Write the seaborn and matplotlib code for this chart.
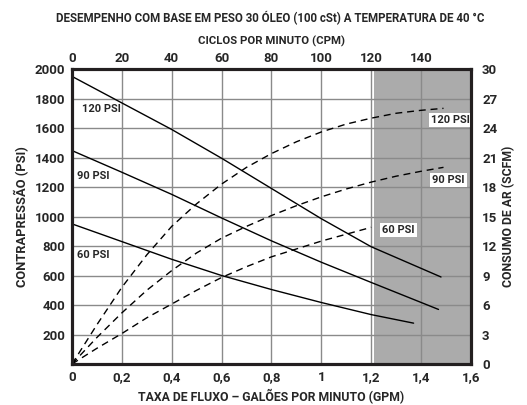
import numpy as np
import pandas as pd
import matplotlib
matplotlib.use("Agg")
import matplotlib.pyplot as plt
import seaborn as sns

# ======================================
# DADOS
# ======================================
# contrapressao (PSI) x vazao (GPM)
gpm_120 = [0, 0.2, 0.4, 0.6, 0.8, 1.0, 1.2, 1.48]
psi_120 = [1950, 1770, 1590, 1395, 1190, 985, 795, 590]
gpm_90 = [0, 0.2, 0.4, 0.6, 0.8, 1.0, 1.2, 1.47]
psi_90 = [1447, 1300, 1150, 990, 835, 690, 553, 370]
gpm_60 = [0, 0.2, 0.4, 0.6, 0.8, 1.0, 1.2, 1.37]
psi_60 = [950, 830, 710, 600, 505, 417, 335, 277]

# consumo de ar (SCFM) x vazao (GPM)
ar_gpm_120 = [0, 0.1, 0.2, 0.3, 0.4, 0.5, 0.6, 0.7, 0.8, 0.9, 1.0, 1.1, 1.2, 1.3, 1.4, 1.49]
scfm_120 = [0, 4.0, 7.8, 11.1, 14.0, 16.3, 18.3, 20.0, 21.4, 22.6, 23.6, 24.4, 25.0, 25.5, 25.8, 26.0]
ar_gpm_90 = [0, 0.1, 0.2, 0.3, 0.4, 0.5, 0.6, 0.7, 0.8, 0.9, 1.0, 1.1, 1.2, 1.3, 1.4, 1.49]
scfm_90 = [0, 2.7, 5.2, 7.5, 9.5, 11.3, 12.8, 14.0, 15.1, 16.1, 17.0, 17.8, 18.5, 19.1, 19.6, 20.0]
ar_gpm_60 = [0, 0.1, 0.2, 0.3, 0.4, 0.5, 0.6, 0.7, 0.8, 0.9, 1.0, 1.1, 1.2]
scfm_60 = [0, 1.6, 3.1, 4.7, 6.1, 7.5, 8.8, 9.9, 10.9, 11.7, 12.5, 13.2, 13.9]

x_ticks = [0, 0.2, 0.4, 0.6, 0.8, 1.0, 1.2, 1.4, 1.6]
x_labels = ["0", "0,2", "0,4", "0,6", "0,8", "1", "1,2", "1,4", "1,6"]
cpm_ticks = [0, 20, 40, 60, 80, 100, 120, 140]
psi_ticks = [200, 400, 600, 800, 1000, 1200, 1400, 1600, 1800, 2000]
scfm_ticks = [0, 3, 6, 9, 12, 15, 18, 21, 24, 27, 30]

sns.set_style("white")
plt.rcParams["font.family"] = ["Roboto", "DejaVu Sans"]
plt.rcParams["font.weight"] = "bold"

fig = plt.figure(figsize=(5.27, 4.05), dpi=100)
ax = fig.add_axes([0.1366, 0.1012, 0.757, 0.7284])

# area sombreada
ax.axvspan(1.21, 1.6, color="#ababab", zorder=0, lw=0)

# grade
ax.set_xticks(x_ticks)
ax.set_yticks(psi_ticks)
ax.grid(True, color="#8a8a8a", lw=1.0, zorder=1)

for xs, ys in [(gpm_120, psi_120), (gpm_90, psi_90), (gpm_60, psi_60)]:
    d = pd.DataFrame({"x": xs, "y": ys})
    sns.lineplot(data=d, x="x", y="y", ax=ax, color="black", lw=1.0, zorder=3)

ax.set_xlim(0, 1.6)
ax.set_ylim(0, 2000)
ax.set_xticklabels(x_labels, fontsize=9.5, fontweight="bold")
ax.set_yticklabels([str(t) for t in psi_ticks], fontsize=9.5, fontweight="bold")
ax.tick_params(length=0, pad=5)
ax.set_xlabel("TAXA DE FLUXO – GALÕES POR MINUTO (GPM)", fontsize=8.8, fontweight="bold", labelpad=4)
ax.set_ylabel("CONTRAPRESSÃO (PSI)", fontsize=9.3, fontweight="bold", labelpad=4)

# eixo direito: consumo de ar
ax_r = ax.twinx()
for xs, ys in [(ar_gpm_120, scfm_120), (ar_gpm_90, scfm_90), (ar_gpm_60, scfm_60)]:
    d = pd.DataFrame({"x": xs, "y": ys})
    sns.lineplot(data=d, x="x", y="y", ax=ax_r, color="black", lw=1.0, zorder=3)
    ax_r.lines[-1].set_dashes([5, 3.5])
ax_r.set_ylim(0, 30)
ax_r.set_yticks(scfm_ticks)
ax_r.set_yticklabels([str(t) for t in scfm_ticks], fontsize=9.5, fontweight="bold")
ax_r.tick_params(length=0, pad=8)
ax_r.set_ylabel("CONSUMO DE AR (SCFM)", fontsize=8.8, fontweight="bold", labelpad=3)
ax_r.set_xlim(0, 1.6)

# eixo superior: ciclos por minuto
ax_t = ax.twiny()
ax_t.set_xlim(0, 160)
ax_t.set_xticks(cpm_ticks)
ax_t.set_xticklabels([str(t) for t in cpm_ticks], fontsize=9.5, fontweight="bold")
ax_t.tick_params(length=0, pad=3)
ax_t.set_xlabel("CICLOS POR MINUTO (CPM)", fontsize=8.2, fontweight="bold", labelpad=5)

for a in [ax, ax_r, ax_t]:
    for s in a.spines.values():
        s.set_linewidth(2.2)
        s.set_color("#231f20")

# rotulos
ax.text(0.04, 1728, "120 PSI", fontsize=8, fontweight="bold", va="center", zorder=5)
ax.text(0.02, 1274, "90 PSI", fontsize=8, fontweight="bold", va="center", zorder=5)
ax.text(0.02, 737, "60 PSI", fontsize=8, fontweight="bold", va="center", zorder=5)
box = dict(facecolor="white", edgecolor="none", pad=1.5)
ax_r.text(1.44, 24.8, "120 PSI", fontsize=8, fontweight="bold", va="center", bbox=box, zorder=5)
ax_r.text(1.445, 18.7, "90 PSI", fontsize=8, fontweight="bold", va="center", bbox=box, zorder=5)
ax_r.text(1.245, 13.6, "60 PSI", fontsize=8, fontweight="bold", va="center", bbox=box, zorder=5)

fig.text(0.513, 0.955, "DESEMPENHO COM BASE EM PESO 30 ÓLEO (100 cSt) A TEMPERATURA DE 40 °C",
         ha="center", va="center", fontsize=8.3, fontweight="bold")

fig.savefig("out.png", dpi=100)
